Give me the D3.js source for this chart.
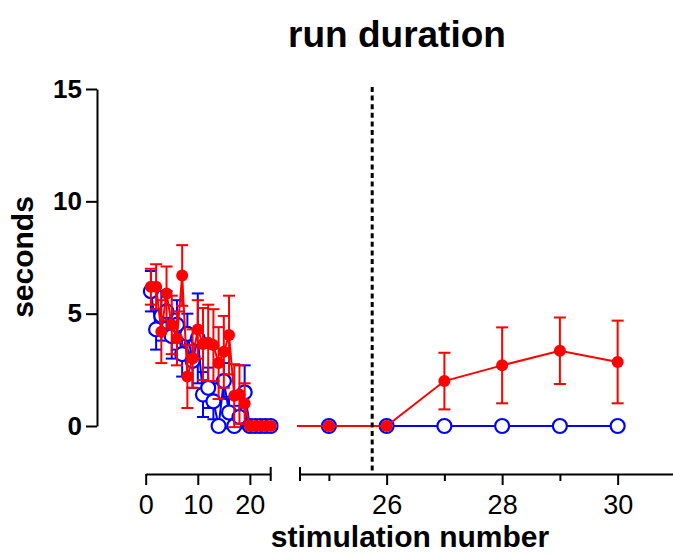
<!DOCTYPE html>
<html><head><meta charset="utf-8">
<script src="https://cdn.jsdelivr.net/npm/d3@7"></script>
<style>
html,body{margin:0;padding:0;background:#fff;}
svg{display:block;font-family:"Liberation Sans",Arial,sans-serif;}
</style></head>
<body><svg id="chart" width="673" height="555"></svg>
<script>
// ---- data ----
const stim = [1,2,3,4,5,6,7,8,9,10,11,12,13,14,15,16,17,18,19,20,21,22,23,24,25,26,27,28,29,30];
const redMean = [6.2,6.2,4.2,5.9,4.5,3.9,6.7,2.2,3.0,4.3,3.65,3.7,3.6,2.8,3.3,4.05,1.35,1.4,1.0,0,0,0,0,0,0,0,2.0,2.7,3.35,2.85];
const redSem  = [0.8,1.0,1.4,1.2,1.3,1.2,1.35,1.4,1.3,1.3,1.6,1.7,1.6,1.6,1.6,1.75,1.4,1.3,0.9,0,0,0,0,0,0,0,1.26,1.69,1.48,1.84];
const blueMean = [6.0,4.3,4.9,5.1,4.0,4.5,3.2,4.1,2.9,3.9,1.4,1.7,1.1,0,2.0,0.6,0,0.4,1.5,0,0,0,0,0,0,0,0,0,0,0];
const blueSem  = [0.9,0.9,1.1,0.9,1.0,1.1,1.0,0.9,1.2,2.0,1.0,0.9,0.8,0,0.8,0.7,0,0.5,1.2,0,0,0,0,0,0,0,0,0,0,0];
const yTicks = [0,5,10,15];
const x1Ticks = [0,10,20];
const x2Major = [26,28,30];
const x2Minor = [25,27,29];
const breakAt = 25.75;
const title = "run duration";
const xTitle = "stimulation number";
const yTitle = "seconds";

const svg = d3.select("#chart");
const y = d3.scaleLinear().domain([0,15]).range([426,89]);
const x1 = d3.scaleLinear().domain([0,24]).range([145.7,270.7]);
const x2 = d3.scaleLinear().domain([24.5,31]).range([300,675.4]);
const axisY = 474;
const fmt = d3.format("d");

const red = "#ff0000", blue = "#0000ff";

const defs = svg.append("defs");
defs.append("clipPath").attr("id","c1").append("rect").attr("x",0).attr("y",0).attr("width",x1(24)+8).attr("height",555);
defs.append("clipPath").attr("id","c2").append("rect").attr("x",297).attr("y",0).attr("width",400).attr("height",555);

const rows = stim.map((s,i)=>({s, rm:redMean[i], rs:redSem[i], bm:blueMean[i], bs:blueSem[i]}));

function drawSeries(g, xs, data, key, color, filled){
  const m = key+"m", e = key+"s";
  const eb = g.append("g").attr("stroke",color).attr("stroke-width",2).attr("fill","none");
  data.filter(d=>d[e]>0).forEach(d=>{
    const cx = xs(d.s);
    eb.append("line").attr("x1",cx).attr("x2",cx).attr("y1",y(d[m]-d[e])).attr("y2",y(d[m]+d[e]));
    [d[m]-d[e], d[m]+d[e]].forEach(v=>{
      eb.append("line").attr("x1",cx-6).attr("x2",cx+6).attr("y1",y(v)).attr("y2",y(v));
    });
  });
  g.append("path").datum(data)
    .attr("fill","none").attr("stroke",color).attr("stroke-width",2)
    .attr("d", d3.line().x(d=>xs(d.s)).y(d=>y(d[m])));
  g.append("g").selectAll("circle").data(data).join("circle")
    .attr("cx",d=>xs(d.s)).attr("cy",d=>y(d[m]))
    .attr("r", filled?6:7)
    .attr("fill", filled?color:"#fff")
    .attr("stroke", color).attr("stroke-width", filled?0:2.2);
}

const seg1 = rows.filter(d=>d.s<=24);
const g1 = svg.append("g").attr("clip-path","url(#c1)");
drawSeries(g1, x1, seg1, "b", blue, false);
drawSeries(g1, x1, seg1, "r", red, true);

const seg2 = rows.filter(d=>d.s>=24);
const g2 = svg.append("g").attr("clip-path","url(#c2)");
drawSeries(g2, x2, seg2, "b", blue, false);
drawSeries(g2, x2, seg2, "r", red, true);

svg.append("line").attr("x1",x2(breakAt)).attr("x2",x2(breakAt))
  .attr("y1",y(15)-2).attr("y2",axisY)
  .attr("stroke","#000").attr("stroke-width",3).attr("stroke-dasharray","5,3.6");

const ya = svg.append("g").attr("transform","translate(97,0)")
  .call(d3.axisLeft(y).tickValues(yTicks).tickSize(11).tickSizeOuter(0).tickPadding(4).tickFormat(fmt));
ya.selectAll("path,line").attr("stroke","#000").attr("stroke-width",2);
ya.selectAll("text").attr("font-size",26).attr("font-weight","bold").attr("fill","#000")
  .attr("font-family","Liberation Sans, Arial, sans-serif");

const xa1 = svg.append("g").attr("transform",`translate(0,${axisY})`)
  .call(d3.axisBottom(x1).tickValues(x1Ticks).tickSize(11).tickSizeOuter(0).tickPadding(10).tickFormat(fmt));
xa1.selectAll("path,line").attr("stroke","#000").attr("stroke-width",2);
xa1.selectAll("text").attr("font-size",27).attr("fill","#000").attr("font-family","Liberation Sans, Arial, sans-serif");
xa1.append("line").attr("x1",x1(24)).attr("x2",x1(24)).attr("y1",-7).attr("y2",7).attr("stroke","#000").attr("stroke-width",2);

const xa2 = svg.append("g").attr("transform",`translate(0,${axisY})`)
  .call(d3.axisBottom(x2).tickValues(x2Major).tickSize(11).tickSizeOuter(0).tickPadding(10).tickFormat(fmt));
xa2.selectAll("path,line").attr("stroke","#000").attr("stroke-width",2);
xa2.selectAll("text").attr("font-size",27).attr("fill","#000").attr("font-family","Liberation Sans, Arial, sans-serif");
const xa2m = svg.append("g").attr("transform",`translate(0,${axisY})`)
  .call(d3.axisBottom(x2).tickValues(x2Minor).tickSize(7).tickFormat(""));
xa2m.select("path").remove();
xa2m.selectAll("line").attr("stroke","#000").attr("stroke-width",2);
xa2.append("line").attr("x1",x2(24.5)).attr("x2",x2(24.5)).attr("y1",-7).attr("y2",7).attr("stroke","#000").attr("stroke-width",2);

svg.append("text").attr("x",397).attr("y",47).attr("text-anchor","middle")
  .attr("font-size",37).attr("font-weight","bold").attr("fill","#000").text(title);
svg.append("text").attr("x",410).attr("y",547).attr("text-anchor","middle")
  .attr("font-size",30).attr("font-weight","bold").attr("fill","#000").text(xTitle);
svg.append("text").attr("transform","translate(33,257) rotate(-90)").attr("text-anchor","middle")
  .attr("font-size",30).attr("font-weight","bold").attr("fill","#000").text(yTitle);
</script>
</body></html>
